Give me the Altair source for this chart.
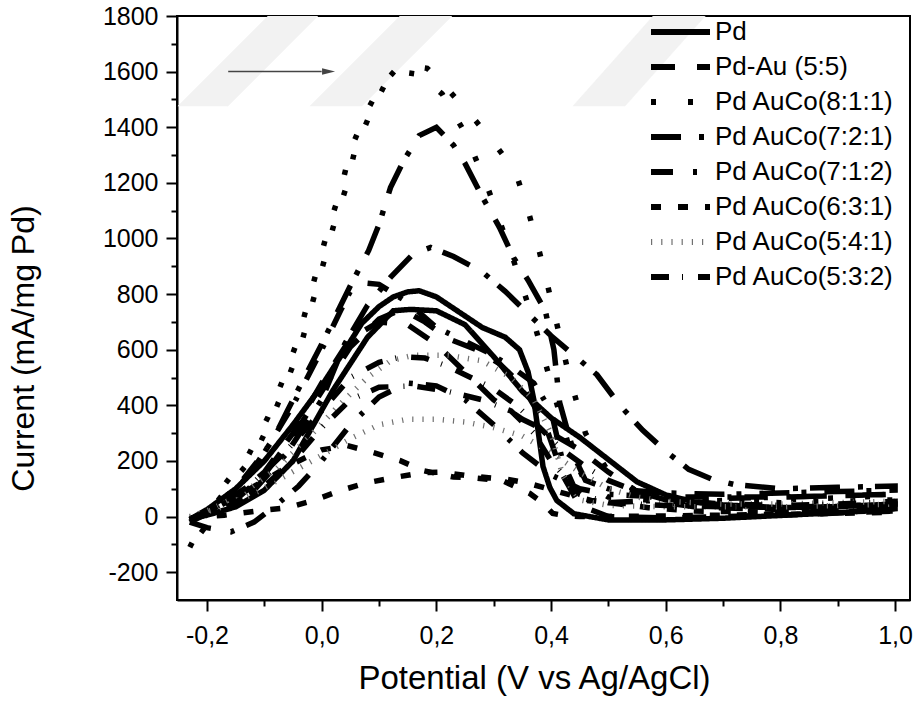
import altair as alt
import pandas as pd

SERIES = ["Pd", "Pd-Au (5:5)", "Pd AuCo(8:1:1)", "Pd AuCo(7:2:1)",
          "Pd AuCo(7:1:2)", "Pd AuCo(6:3:1)", "Pd AuCo(5:4:1)", "Pd AuCo(5:3:2)"]
COLORS = ["#000000", "#000000", "#000000", "#000000",
          "#000000", "#000000", "#707070", "#000000"]
DASHES = [[1, 0], [24, 22], [5, 32], [30, 18, 5, 12],
          [22, 20, 4, 13], [10, 17], [1.2, 9], [18, 13, 1, 15]]

# Pd
PD_V = [-0.23, -0.2, -0.15, -0.1, -0.05, 0.0, 0.05, 0.07, 0.1, 0.125, 0.15, 0.17, 0.2, 0.24, 0.28,
        0.32, 0.345, 0.36, 0.37, 0.378, 0.386, 0.398, 0.41, 0.44, 0.5, 0.6, 0.7, 0.8, 0.9, 1.0,
        1.0, 0.9, 0.8, 0.7, 0.65, 0.6, 0.55, 0.5, 0.45, 0.4, 0.35, 0.3, 0.25, 0.2, 0.155,
        0.125, 0.08, 0.02, -0.05, -0.1, -0.15, -0.2, -0.23]
PD_I = [-10, 25, 100, 200, 330, 470, 630, 695, 755, 790, 808, 812, 790, 735, 680,
        645, 600, 520, 420, 300, 180, 104, 58, 10, -12, -12, -6, 4, 14, 28,
        45, 36, 32, 42, 52, 78, 125, 205, 285, 355, 450, 575, 690, 740, 745,
        740, 645, 455, 200, 95, 35, 5, -10]

# Pd-Au (5:5)
PDAU_V = [-0.23, -0.2, -0.15, -0.1, -0.05, 0.0, 0.05, 0.1, 0.14, 0.18, 0.22, 0.27, 0.31, 0.35, 0.39,
          0.42, 0.45, 0.5, 0.6, 0.8, 1.0,
          1.0, 0.8, 0.65, 0.6, 0.55, 0.5, 0.45, 0.4, 0.35, 0.3, 0.25, 0.2, 0.15, 0.1, 0.05,
          0.0, -0.05, -0.1, -0.15, -0.2, -0.23]
PDAU_I = [-20, 10, 60, 150, 290, 450, 610, 710, 745, 700, 640, 600, 550, 470, 330,
          150, 40, 0, -5, 5, 20,
          30, 25, 35, 50, 90, 160, 240, 300, 350, 420, 520, 620, 690, 700, 640,
          480, 300, 160, 70, 15, -20]

# Pd AuCo(8:1:1)
A811_V = [-0.23, -0.21, -0.19, -0.16, -0.13, -0.094, -0.066, -0.042, -0.023, -0.005,
          0.012, 0.033, 0.05, 0.077, 0.1, 0.128, 0.155, 0.184, 0.21, 0.24,
          0.27, 0.294, 0.32, 0.34, 0.36, 0.38, 0.40, 0.43, 0.46, 0.5, 0.55, 0.65, 0.8, 1.0,
          1.0, 0.8, 0.6, 0.5, 0.46, 0.43, 0.4, 0.37, 0.33, 0.29, 0.25, 0.21, 0.17, 0.135,
          0.108, 0.085, 0.058, 0.041, 0.02, 0.003, -0.015, -0.034, -0.058, -0.086, -0.12,
          -0.15, -0.18, -0.2, -0.23]
A811_I = [-110, -30, 60, 140, 212, 356, 500, 633, 777, 910,
          1040, 1173, 1317, 1450, 1540, 1604, 1620, 1612, 1560, 1490,
          1420, 1360, 1290, 1227, 1100, 950, 780, 520, 300, 160, 90, 60, 50, 60,
          75, 60, 55, 70, 120, 260, 480, 700, 950, 1180, 1380, 1520, 1590, 1600,
          1545, 1450, 1317, 1173, 1040, 910, 777, 633, 500, 356, 212,
          140, 60, -30, -110]

# Pd AuCo(7:2:1)
A721_V = [-0.23, -0.18, -0.12, -0.06, 0.0, 0.04, 0.08, 0.12, 0.16, 0.19, 0.23, 0.28, 0.32, 0.36,
          0.4, 0.44, 0.48, 0.52, 0.56, 0.6, 0.64, 0.68, 0.72, 0.8, 0.9, 1.0,
          1.0, 0.9, 0.8, 0.7, 0.6, 0.5, 0.46, 0.445, 0.43, 0.415, 0.405, 0.39, 0.36, 0.335,
          0.31, 0.28, 0.25, 0.23, 0.2, 0.17, 0.143, 0.12, 0.1, 0.082, 0.05, 0.0, -0.03,
          -0.06, -0.083, -0.118, -0.16, -0.2, -0.23]
A721_I = [-10, 20, 90, 230, 420, 620, 760, 860, 945, 968, 935, 880, 810, 730,
          650, 580, 510, 400, 310, 235, 170, 135, 115, 100, 105, 110,
          95, 90, 85, 80, 85, 100, 130, 195, 300, 410, 600, 740, 850, 930,
          1040, 1150, 1270, 1335, 1400, 1370, 1280, 1183, 1050, 957, 830, 620, 500,
          380, 284, 176, 70, 10, -10]

# Pd AuCo(7:1:2)
A712_V = [-0.23, -0.2, -0.158, -0.118, -0.08, -0.04, 0.0, 0.05, 0.1, 0.15, 0.2, 0.25, 0.3, 0.35,
          0.4, 0.45, 0.5, 0.6, 0.8, 1.0,
          1.0, 0.8, 0.6, 0.5, 0.45, 0.42, 0.4, 0.37, 0.33, 0.29, 0.25, 0.2, 0.15, 0.1, 0.075,
          0.05, 0.033, 0.0, -0.05, -0.1, -0.15, -0.2, -0.23]
A712_I = [-20, -40, -55, -20, 40, 110, 200, 330, 430, 480, 470, 420, 330, 230,
          150, 100, 80, 70, 70, 80,
          80, 70, 60, 50, 60, 200, 380, 480, 540, 590, 630, 680, 770, 835, 840,
          810, 741, 600, 400, 230, 100, 20, -20]

# Pd AuCo(6:3:1)
A631_V = [-0.23, -0.17, -0.106, -0.06, -0.014, 0.033, 0.08, 0.125, 0.177, 0.21, 0.26, 0.32, 0.36,
          0.42, 0.47, 0.52, 0.57, 0.65, 0.8, 1.0,
          1.0, 0.8, 0.6, 0.45, 0.42, 0.403, 0.385, 0.363, 0.317, 0.264, 0.23, 0.177, 0.137,
          0.09, 0.045, 0.0, -0.05, -0.1, -0.15, -0.2, -0.23]
A631_I = [-5, 5, 22, 32, 58, 94, 122, 140, 158, 160, 145, 135, 120,
          85, 58, 45, 32, 20, 15, 20,
          15, 8, 2, 0, 5, 11, 50, 83, 128, 140, 142, 165, 201,
          230, 255, 240, 190, 130, 70, 20, -5]

# Pd AuCo(5:4:1)
A541_V = [-0.23, -0.18, -0.12, -0.06, 0.0, 0.05, 0.1, 0.15, 0.2, 0.25, 0.3, 0.35, 0.4, 0.45, 0.5,
          0.55, 0.6, 0.7, 0.8, 1.0,
          1.0, 0.8, 0.6, 0.5, 0.45, 0.42, 0.4, 0.37, 0.33, 0.28, 0.22, 0.16, 0.12, 0.08, 0.03,
          -0.02, -0.08, -0.14, -0.2, -0.23]
A541_I = [0, 30, 80, 150, 220, 280, 330, 350, 350, 340, 320, 290, 230, 160, 100,
          70, 55, 45, 45, 55,
          45, 35, 35, 40, 60, 150, 300, 420, 500, 560, 580, 580, 560, 500, 400,
          290, 170, 80, 20, 0]

# Pd AuCo(5:3:2)
A532_V = [-0.23, -0.18, -0.12, -0.06, 0.0, 0.05, 0.1, 0.14, 0.18, 0.22, 0.26, 0.3, 0.34, 0.38,
          0.42, 0.46, 0.5, 0.55, 0.6, 0.7, 0.8, 0.9, 1.0,
          1.0, 0.9, 0.8, 0.7, 0.6, 0.5, 0.45, 0.4, 0.37, 0.33, 0.28, 0.22, 0.16, 0.1, 0.05,
          0.0, -0.05, -0.1, -0.16, -0.23]
A532_I = [-10, 40, 120, 240, 380, 500, 555, 575, 570, 540, 500, 460, 400, 320,
          240, 180, 130, 90, 60, 45, 40, 45, 55,
          45, 38, 33, 35, 40, 50, 80, 200, 300, 380, 420, 450, 470, 465, 420,
          320, 200, 110, 40, -10]

CURVES = [(PD_V, PD_I), (PDAU_V, PDAU_I), (A811_V, A811_I), (A721_V, A721_I),
          (A712_V, A712_I), (A631_V, A631_I), (A541_V, A541_I), (A532_V, A532_I)]

# arrow annotation
ARROW_X = [-0.163, 0.0]
ARROW_HEAD_X = [0.012]
ARROW_Y = [1600]

# faint background watermark bands: corners (V, I) in drawing order
BAND_ID = [1, 1, 1, 1, 2, 2, 2, 2, 3, 3, 3, 3]
BAND_CORNER = [0, 1, 2, 3, 0, 1, 2, 3, 0, 1, 2, 3]
BAND_V = [-0.2507, -0.1634, -0.0065, -0.0937,
          -0.0204, 0.0702, 0.2273, 0.1366,
          0.4383, 0.5290, 0.6690, 0.5780]
BAND_I = [1476, 1476, 1800, 1800,
          1476, 1476, 1800, 1800,
          1476, 1476, 1800, 1800]

X_TICKS = [round(-0.2 + 0.1 * k, 1) for k in range(13)]
Y_TICKS = list(range(-200, 1801, 100))

rows = []
for name, (vs, cs) in zip(SERIES, CURVES):
    assert len(vs) == len(cs), name
    for k, (v, c) in enumerate(zip(vs, cs)):
        rows.append({"series": name, "idx": k, "V": v, "I": c})
df = pd.DataFrame(rows)

FONT = "Liberation Sans"
XS = alt.Scale(domain=[-0.2523, 1.026], nice=False, zero=False)
YS = alt.Scale(domain=[-300, 1800], nice=False, zero=False)

x_major = "abs(datum.value*5 - round(datum.value*5)) < 0.01"
y_major = "datum.value % 200 === 0"

AX_X = alt.Axis(
    values=X_TICKS,
    labelExpr=f"{x_major} ? replace(replace(format(datum.value, '.1f'), '.', ','), '\u2212', '-') : ''",
    tickSize={"condition": {"test": x_major, "value": 11}, "value": 6},
    labelPadding=12, labelFontSize=25, labelFont=FONT, labelColor="black",
    titleFontSize=33, titleFont=FONT, titleFontWeight="normal", titleColor="black",
    titleX=357, titleY=88, titleAlign="center", titleBaseline="alphabetic",
    grid=False, domainColor="black", domainWidth=2, tickColor="black", tickWidth=2,
    labelFlush=False, labelOverlap=False,
)
AX_Y = alt.Axis(
    values=Y_TICKS,
    labelExpr=f"{y_major} ? '' + datum.value : ''",
    tickSize={"condition": {"test": y_major, "value": 11}, "value": 6},
    labelPadding=8, labelFontSize=25, labelFont=FONT, labelColor="black",
    titleFontSize=32, titleFont=FONT, titleFontWeight="normal", titleColor="black",
    titleX=-144, titleY=332, titleAngle=270, titleAlign="center", titleBaseline="alphabetic",
    grid=False, domainColor="black", domainWidth=2, tickColor="black", tickWidth=2,
    labelFlush=False, labelOverlap=False,
)
XT = "Potential (V vs Ag/AgCl)"
YT = "Current (mA/mg Pd)"

LEG = alt.Legend(
    title=None, orient="none", legendX=471, legendY=-1.5,
    symbolType="stroke", symbolSize=3481, symbolStrokeWidth=6,
    labelFontSize=26, labelFont=FONT, labelColor="black", labelOffset=2,
    labelLimit=0, clipHeight=35, rowPadding=0, padding=0,
)

band_df = pd.DataFrame({"band": BAND_ID, "corner": BAND_CORNER, "V": BAND_V, "I": BAND_I})
bands = alt.Chart(band_df).mark_line(
    filled=True, fill="#f2f2f2", stroke="#f2f2f2", strokeWidth=0.5, interpolate="linear-closed", clip=True
).encode(
    x=alt.X("V:Q", scale=XS, axis=AX_X, title=XT),
    y=alt.Y("I:Q", scale=YS, axis=AX_Y, title=YT),
    detail="band:N",
    order=alt.Order("corner:Q"),
)

lines = alt.Chart(df).mark_line(strokeWidth=5.5, clip=True).encode(
    x=alt.X("V:Q", scale=XS, axis=AX_X, title=XT),
    y=alt.Y("I:Q", scale=YS, axis=AX_Y, title=YT),
    color=alt.Color("series:N", scale=alt.Scale(domain=SERIES, range=COLORS), legend=LEG),
    strokeDash=alt.StrokeDash("series:N", scale=alt.Scale(domain=SERIES, range=DASHES), legend=LEG),
    detail="series:N",
    order=alt.Order("idx:Q"),
)

arrow_df = pd.DataFrame({"x": [ARROW_X[0]], "x2": [ARROW_X[1]], "y": ARROW_Y})
head_df = pd.DataFrame({"x": ARROW_HEAD_X, "y": ARROW_Y})

arrow = alt.Chart(arrow_df).mark_rule(color="#444444", strokeWidth=1.5).encode(
    x=alt.X("x:Q", scale=XS, axis=AX_X, title=XT),
    x2="x2:Q",
    y=alt.Y("y:Q", scale=YS, axis=AX_Y, title=YT),
)
head = alt.Chart(head_df).mark_point(
    shape="M-1,-0.5L1,0L-1,0.5Z", filled=True, size=169, color="#444444", opacity=1
).encode(
    x=alt.X("x:Q", scale=XS, axis=AX_X, title=XT),
    y=alt.Y("y:Q", scale=YS, axis=AX_Y, title=YT),
)

chart = alt.layer(bands, lines, arrow, head).properties(
    width=733, height=584, autosize="none",
    padding={"left": 177, "top": 16, "right": 6, "bottom": 102},
    background="white",
).configure_view(stroke="black", strokeWidth=2)

chart.save("out.html", embed_options={"renderer": "svg", "actions": False})
